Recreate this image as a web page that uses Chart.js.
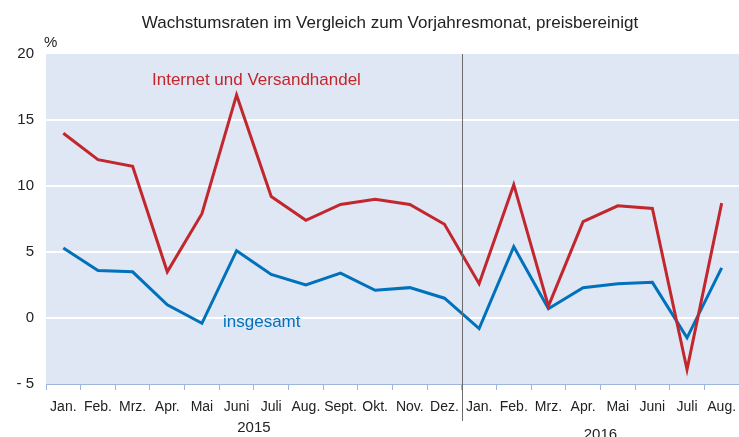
<!DOCTYPE html>
<html>
<head>
<meta charset="utf-8">
<script src="https://cdn.jsdelivr.net/npm/chart.js@4/dist/chart.umd.min.js"></script>
<style>
  html, body { margin: 0; padding: 0; background: #fff; }
  #wrap { width: 739px; height: 437px; position: relative; }
</style>
</head>
<body>
<div id="wrap"><canvas id="myChart" width="739" height="437"></canvas></div>
<script>
const months = ['Jan.', 'Feb.', 'Mrz.', 'Apr.', 'Mai', 'Juni', 'Juli', 'Aug.', 'Sept.', 'Okt.', 'Nov.', 'Dez.',
                'Jan.', 'Feb.', 'Mrz.', 'Apr.', 'Mai', 'Juni', 'Juli', 'Aug.'];
const years = [{ label: '2015', from: 0, to: 11 }, { label: '2016', from: 12, to: 19 }];
const internet = [14.0, 12.0, 11.5, 3.5, 7.9, 16.9, 9.2, 7.4, 8.6, 9.0, 8.6, 7.1,
                  2.6, 10.1, 0.9, 7.3, 8.5, 8.3, -3.9, 8.7];
const insgesamt = [5.3, 3.6, 3.5, 1.0, -0.4, 5.1, 3.3, 2.5, 3.4, 2.1, 2.3, 1.5,
                   -0.8, 5.4, 0.7, 2.3, 2.6, 2.7, -1.5, 3.8];
const yTicks = [-5, 0, 5, 10, 15, 20];

const RED = '#c1272d';
const BLUE = '#0071bb';
const FONT = "'Liberation Sans', Arial, sans-serif";

// background, divider, title, series labels, year labels
const decor = {
  id: 'decor',
  beforeDraw(chart) {
    const { ctx, chartArea: a } = chart;
    ctx.save();
    ctx.fillStyle = '#dfe6f4';
    ctx.fillRect(a.left, a.top, a.right - a.left, a.bottom - a.top);
    ctx.restore();
  },
  afterDraw(chart) {
    const { ctx, chartArea: a, scales } = chart;
    const x = scales.x;
    ctx.save();
    // year divider
    const xd = Math.round((x.getPixelForValue(11) + x.getPixelForValue(12)) / 2) + 0.5;
    ctx.strokeStyle = '#6b6b6b';
    ctx.lineWidth = 1;
    ctx.beginPath();
    ctx.moveTo(xd, a.top);
    ctx.lineTo(xd, 421);
    ctx.stroke();

    ctx.fillStyle = '#222';
    ctx.textAlign = 'center';
    ctx.textBaseline = 'middle';
    ctx.font = '17px ' + FONT;
    ctx.fillText('Wachstumsraten im Vergleich zum Vorjahresmonat, preisbereinigt', 390, 23);

    ctx.font = '15px ' + FONT;
    ctx.textAlign = 'left';
    ctx.fillText('%', 44, 43);

    ctx.font = '15px ' + FONT;
    ctx.textAlign = 'center';
    ctx.fillStyle = '#222';
    years.forEach((y, i) => {
      const cx = (x.getPixelForValue(y.from) + x.getPixelForValue(y.to)) / 2;
      ctx.fillText(y.label, cx, i === 0 ? 428 : 435);
    });

    ctx.font = '17px ' + FONT;
    ctx.textAlign = 'left';
    ctx.fillStyle = RED;
    ctx.fillText('Internet und Versandhandel', 152, 80);
    ctx.fillStyle = BLUE;
    ctx.fillText('insgesamt', 223, 322);
    ctx.restore();
  }
};

const ctx = document.getElementById('myChart');
new Chart(ctx, {
  type: 'line',
  data: {
    labels: months,
    datasets: [
      { label: 'Internet und Versandhandel', data: internet, borderColor: RED, borderWidth: 3,
        pointRadius: 0, tension: 0, fill: false },
      { label: 'insgesamt', data: insgesamt, borderColor: BLUE, borderWidth: 3,
        pointRadius: 0, tension: 0, fill: false }
    ]
  },
  options: {
    responsive: false,
    animation: false,
    layout: { padding: { top: 54, right: -2, left: 0, bottom: 0 } },
    plugins: { legend: { display: false }, title: { display: false }, tooltip: { enabled: false } },
    scales: {
      x: {
        offset: true,
        grid: { offset: true, drawOnChartArea: false, drawTicks: true, tickLength: 6, color: '#9fb4de', lineWidth: 1 },
        border: { display: true, color: '#9fb4de' },
        ticks: { color: '#222', font: { family: FONT, size: 14 }, padding: 9, maxRotation: 0, autoSkip: false },
        afterFit(scale) {
          scale.height = 53;
          scale.paddingLeft = 0;
          scale.paddingRight = 0;
        }
      },
      y: {
        min: -5,
        max: 20,
        afterBuildTicks(scale) { scale.ticks = yTicks.map(v => ({ value: v })); },
        grid: { color: (c) => (c.tick && c.tick.value > -5 && c.tick.value < 20) ? '#ffffff' : 'rgba(0,0,0,0)',
                lineWidth: 2, drawTicks: false },
        border: { display: false },
        ticks: { color: '#222', font: { family: FONT, size: 15 }, padding: 12,
                 callback: (v) => v < 0 ? '- ' + Math.abs(v) : String(v) },
        afterFit(scale) {
          scale.width = 46;
          scale.paddingTop = 0;
          scale.paddingBottom = 0;
        }
      }
    }
  },
  plugins: [decor]
});
</script>
</body>
</html>
